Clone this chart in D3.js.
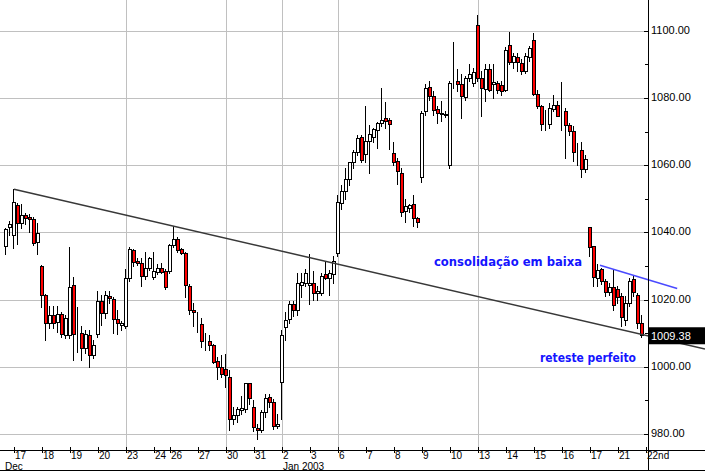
<!DOCTYPE html>
<html><head><meta charset="utf-8">
<script src="https://cdn.jsdelivr.net/npm/d3@7"></script>
<style>
html,body{margin:0;padding:0;background:#fff;}
svg{display:block;}
</style></head><body>
<svg id="chart" width="705" height="471"></svg>
<script>
// hourly candles: [open, high, low, close]
const candles = [
 [1035.9,1041.2,1033.7,1040.9],[1041.5,1043.5,1039.2,1042.5],
 // Dec 17
 [1039.2,1052.8,1035.2,1048.9],[1048.0,1048.8,1036.5,1042.7],[1042.7,1048.3,1041.2,1045.1],[1045.2,1045.8,1042.5,1044.4],[1044.6,1045.6,1040.2,1043.9],[1043.9,1044.6,1036.3,1036.7],[1037.0,1042.7,1033.5,1039.7],
 // Dec 18
 [1030.0,1030.2,1017.9,1021.3],[1021.3,1021.8,1008.0,1013.1],[1013.1,1018.1,1011.4,1015.4],[1015.4,1018.0,1011.4,1012.9],[1013.4,1018.0,1010.4,1015.7],[1015.7,1016.4,1008.9,1009.7],[1009.4,1015.5,1008.5,1014.4],
 // Dec 19
 [1009.4,1035.7,1008.5,1023.8],[1024.3,1026.8,1002.0,1009.7],[1010.0,1017.9,1004.5,1010.0],[1010.1,1012.0,1002.0,1005.5],[1005.5,1011.0,1004.0,1009.9],[1009.4,1011.0,1000.0,1003.5],[1003.5,1008.0,1002.5,1006.5],
 // Dec 20
 [1009.7,1022.5,1009.0,1019.6],[1019.6,1021.5,1012.5,1015.9],[1015.9,1022.5,1014.5,1021.3],[1021.1,1022.5,1019.0,1020.4],[1020.1,1020.7,1010.1,1014.1],[1014.1,1016.8,1009.8,1012.9],[1012.4,1013.5,1011.0,1012.9],
 // Dec 23
 [1012.1,1029.0,1011.5,1026.3],[1026.3,1035.7,1025.5,1034.9],[1034.7,1035.0,1030.0,1031.2],[1031.5,1032.5,1030.3,1030.9],[1030.9,1032.3,1024.0,1027.0],[1027.0,1034.1,1026.0,1029.3],[1029.3,1032.8,1028.8,1032.3],
 // Dec 24
 [1026.6,1034.1,1026.0,1028.6],[1028.3,1030.5,1027.5,1029.3],[1029.5,1030.8,1028.0,1028.3],[1028.5,1029.0,1023.0,1023.6],
 // Dec 26
 [1028.5,1036.5,1028.0,1036.2],[1036.2,1041.9,1035.5,1038.0],[1038.0,1038.5,1034.2,1034.7],[1034.9,1035.2,1033.5,1033.9],[1033.9,1034.2,1020.8,1024.2],[1024.0,1024.5,1015.8,1016.9],[1016.9,1019.0,1012.0,1016.4],
 // Dec 27
 [1013.5,1016.4,1010.4,1013.5],[1012.7,1014.5,1006.0,1007.7],[1008.0,1010.0,1005.0,1008.0],[1007.6,1009.5,1005.0,1006.4],[1006.4,1006.8,1001.0,1001.5],[1001.7,1003.0,996.3,999.8],[999.8,1003.5,997.0,998.0],
 // Dec 30
 [999.2,1003.7,994.0,997.5],[996.9,999.0,981.2,984.4],[984.4,988.0,983.0,985.8],[985.6,988.0,983.5,987.3],[987.1,991.2,986.0,987.6],[987.3,995.3,986.5,995.1],[995.1,995.3,989.0,990.6],
 // Dec 31
 [987.9,990.0,981.0,982.1],[981.9,983.0,978.4,981.3],[981.3,987.0,980.5,986.4],[986.4,992.0,985.0,990.8],[990.9,992.0,988.0,989.6],[989.6,990.3,981.5,982.3],[982.3,986.0,981.8,982.9],
 // Jan 2
 [995.5,1010.8,984.6,1009.4],[1011.7,1016.2,1008.0,1013.9],[1014.1,1019.5,1013.0,1018.7],[1018.7,1019.5,1015.0,1016.9],[1017.0,1027.8,1015.5,1025.0],[1024.3,1027.8,1020.8,1025.3],[1025.0,1029.0,1024.0,1027.8],
 // Jan 3
 [1024.3,1033.5,1018.7,1024.8],[1024.8,1028.5,1020.0,1022.1],[1022.1,1024.0,1020.0,1022.5],[1022.1,1027.8,1021.5,1027.0],[1027.5,1031.2,1026.0,1026.5],[1026.3,1028.8,1021.5,1027.8],[1027.5,1033.0,1025.0,1031.5],
 // Jan 6
 [1034.0,1051.1,1033.0,1048.9],[1048.6,1054.0,1047.0,1052.3],[1052.3,1059.0,1050.0,1055.9],[1055.9,1061.0,1054.0,1060.8],[1060.8,1064.5,1059.0,1064.0],[1064.0,1069.0,1063.0,1068.0],[1068.3,1069.0,1061.0,1061.5],
 // Jan 7
 [1063.3,1077.6,1061.0,1067.2],[1067.2,1072.0,1057.6,1069.3],[1068.5,1071.0,1067.0,1070.7],[1070.4,1072.8,1065.0,1072.4],[1072.4,1082.9,1071.5,1073.4],[1073.9,1078.7,1071.0,1073.2],[1073.4,1074.0,1064.8,1072.1],
 // Jan 8
 [1063.7,1067.0,1060.0,1060.8],[1061.2,1062.0,1054.5,1058.2],[1057.6,1059.0,1045.0,1046.0],[1046.3,1050.0,1043.0,1047.8],[1047.3,1048.5,1046.0,1048.1],[1048.3,1051.0,1042.0,1044.2],[1044.2,1044.5,1041.5,1043.0],
 // Jan 9
 [1056.5,1076.0,1055.0,1075.4],[1076.1,1084.0,1075.0,1082.9],[1083.2,1085.0,1079.5,1080.6],[1080.6,1082.0,1075.0,1076.4],[1076.6,1077.5,1072.5,1075.4],[1075.1,1079.0,1073.0,1075.4],[1075.1,1076.0,1074.2,1074.8],
 // Jan 10
 [1060.0,1085.0,1059.0,1084.3],[1084.5,1096.7,1083.0,1084.5],[1085.0,1088.5,1082.0,1084.1],[1084.1,1087.0,1074.0,1080.6],[1080.2,1086.5,1079.5,1085.8],[1085.8,1090.0,1085.0,1087.0],[1084.3,1089.0,1083.5,1087.8],
 // Jan 13
 [1101.7,1104.7,1085.0,1085.8],[1085.8,1088.0,1074.5,1082.9],[1082.6,1090.0,1079.0,1088.5],[1088.5,1090.0,1082.0,1082.4],[1084.1,1090.0,1080.0,1084.8],[1084.5,1085.0,1081.5,1082.4],[1083.8,1085.0,1081.0,1082.1],
 // Jan 14
 [1082.4,1095.0,1082.0,1094.3],[1095.7,1099.5,1090.0,1090.8],[1090.8,1093.5,1089.0,1092.5],[1092.3,1093.5,1088.0,1090.8],[1090.5,1091.5,1087.0,1088.0],[1088.0,1093.5,1087.5,1092.5],[1092.3,1095.5,1091.0,1094.8],
 // Jan 15
 [1097.1,1099.3,1081.0,1081.2],[1081.2,1082.5,1077.0,1077.7],[1077.7,1078.0,1070.4,1072.2],[1074.0,1076.5,1070.5,1074.0],[1072.3,1078.5,1071.0,1077.0],[1076.7,1081.0,1076.0,1077.8],[1077.8,1079.0,1075.0,1074.5],
 // Jan 16
 [1076.5,1084.7,1070.5,1076.5],[1076.0,1077.0,1062.0,1071.8],[1071.8,1072.5,1069.0,1070.1],[1070.1,1071.5,1061.2,1063.9],[1064.5,1066.5,1060.0,1064.5],[1064.4,1066.9,1056.5,1058.9],[1058.9,1063.0,1058.0,1061.9],
 // Jan 17
 [1041.5,1041.5,1033.0,1035.5],[1035.9,1036.0,1024.0,1026.8],[1026.3,1030.5,1024.0,1028.8],[1029.0,1029.5,1024.5,1025.6],[1025.6,1026.0,1021.0,1022.3],[1022.3,1025.0,1021.5,1023.8],[1023.6,1029.0,1017.0,1018.4],
 // Jan 21
 [1023.0,1024.0,1019.0,1020.8],[1021.0,1022.0,1012.0,1014.9],[1013.9,1021.0,1012.5,1018.9],[1018.9,1026.5,1018.0,1025.6],[1026.0,1027.0,1021.0,1022.3],[1021.3,1022.0,1011.5,1012.9],[1013.1,1015.5,1009.0,1009.38]
];
const dayLabels = ["17","18","19","20","23","24","26","27","30","31","2","3","6","7","8","9","10","13","14","15","16","17","21","22nd"];
const dayStart  = [2,9,16,23,30,37,41,48,55,62,69,76,83,90,97,104,111,118,125,132,139,146,153,160];
const monthLabels = ["Dec","Jan 2003"];
const monthStart = [-1,69];
const gridDays = [30,55,69,83,118];
const priceMajor = [980,1000,1020,1040,1060,1080,1100];
const priceMinor = [990,1010,1030,1050,1070,1090];
const lastPrice = 1009.38;
const trendLine = [[2,1052.8],[174.75,1005.3]];
const consolidationLine = [[148.5,1030.2],[167.8,1023.3]];
const notes = [
  {text:"consolidação em baixa", i:107, p:1030.0, w:148},
  {text:"reteste perfeito", i:133.5, p:1001.5, w:96}
];

const svg = d3.select("#chart");
const W = 705, H = 471, plotR = 648, plotB = 450;
const x = d3.scaleLinear().domain([-1.5,160.5]).range([0,plotR]);
const y = d3.scaleLinear().domain([975.24,1109.13]).range([plotB,0]);
const cr = v => Math.round(v)+0.5;
const FONT = "Liberation Sans, Arial, sans-serif";

svg.append("rect").attr("width",W).attr("height",H).attr("fill","#fff");

// gridlines
const g = svg.append("g").attr("shape-rendering","crispEdges");
g.selectAll(".hg").data(priceMajor).join("line")
  .attr("x1",0).attr("x2",plotR).attr("y1",d=>cr(y(d))).attr("y2",d=>cr(y(d)))
  .attr("stroke","#c0c0c0");
g.selectAll(".vg").data(gridDays).join("line")
  .attr("x1",d=>cr(x(d))).attr("x2",d=>cr(x(d))).attr("y1",0).attr("y2",plotB)
  .attr("stroke","#c0c0c0");

// candles
const cg = svg.append("g").attr("shape-rendering","crispEdges");
cg.selectAll(".wick").data(candles).join("line")
  .attr("x1",(d,i)=>Math.round(x(i))-0.5).attr("x2",(d,i)=>Math.round(x(i))-0.5)
  .attr("y1",d=>Math.round(y(d[1]))).attr("y2",d=>Math.round(y(d[2]))+1)
  .attr("stroke","#000");
cg.selectAll(".body").data(candles).join("rect")
  .attr("x",(d,i)=>Math.round(x(i))-1.5).attr("width",3)
  .attr("y",d=>Math.round(y(Math.max(d[0],d[3])))+0.5)
  .attr("height",d=>Math.max(0,Math.round(y(Math.min(d[0],d[3])))-Math.round(y(Math.max(d[0],d[3])))))
  .attr("fill",d=>d[3]<d[0]?"#ff0000":"#ffffff")
  .attr("stroke","#000").attr("stroke-width",1);

// trend lines
const ln = d3.line().x(d=>x(d[0])).y(d=>y(d[1]));
svg.append("path").attr("d",ln(trendLine)).attr("stroke","#383838").attr("stroke-width",1.5).attr("fill","none");
svg.append("path").attr("d",ln(consolidationLine)).attr("stroke","#4a4aff").attr("stroke-width",1.5).attr("fill","none");

// axes
const ax = svg.append("g").attr("shape-rendering","crispEdges");
ax.append("line").attr("x1",plotR+0.5).attr("x2",plotR+0.5).attr("y1",0).attr("y2",H).attr("stroke","#000");
ax.append("line").attr("x1",0).attr("x2",W).attr("y1",plotB+0.5).attr("y2",plotB+0.5).attr("stroke","#000");
ax.append("line").attr("x1",0).attr("x2",W).attr("y1",H-0.5).attr("y2",H-0.5).attr("stroke","#000");
ax.selectAll(".mt").data(priceMajor).join("line")
  .attr("x1",plotR-4).attr("x2",plotR).attr("y1",d=>cr(y(d))).attr("y2",d=>cr(y(d))).attr("stroke","#000");
ax.selectAll(".nt").data(priceMinor).join("line")
  .attr("x1",plotR-3).attr("x2",plotR).attr("y1",d=>cr(y(d))).attr("y2",d=>cr(y(d))).attr("stroke","#000");
svg.selectAll(".pl").data(priceMajor).join("text")
  .attr("x",plotR+3).attr("y",d=>y(d)+3)
  .attr("font-family",FONT).attr("font-size",11)
  .text(d=>d3.format(".2f")(d));
ax.selectAll(".dt").data(dayStart).join("line")
  .attr("x1",d=>cr(x(d))).attr("x2",d=>cr(x(d))).attr("y1",plotB-3).attr("y2",plotB+3).attr("stroke","#000");
svg.selectAll(".dl").data(dayLabels).join("text")
  .attr("x",(d,i)=>x(dayStart[i])+1).attr("y",459)
  .attr("font-family",FONT).attr("font-size",10)
  .text(d=>d);
svg.selectAll(".ml").data(monthLabels).join("text")
  .attr("x",(d,i)=>Math.max(5,x(monthStart[i])+1)).attr("y",470)
  .attr("font-family",FONT).attr("font-size",10)
  .text(d=>d);

// last price box
svg.append("rect").attr("x",plotR+1).attr("y",y(lastPrice)-8).attr("width",W-plotR-1).attr("height",17).attr("fill","#000");
svg.append("text").attr("x",plotR+3).attr("y",y(lastPrice)+4.5)
  .attr("font-family",FONT).attr("font-size",11).attr("fill","#fff")
  .text(d3.format(".2f")(lastPrice));

// notes
svg.selectAll(".note").data(notes).join("text")
  .attr("x",d=>x(d.i)).attr("y",d=>y(d.p))
  .attr("font-family","DejaVu Sans, Verdana, sans-serif").attr("font-weight","bold").attr("font-size",11.5)
  .attr("textLength",d=>d.w).attr("lengthAdjust","spacingAndGlyphs")
  .attr("fill","#1414ff").text(d=>d.text);
</script></body></html>
